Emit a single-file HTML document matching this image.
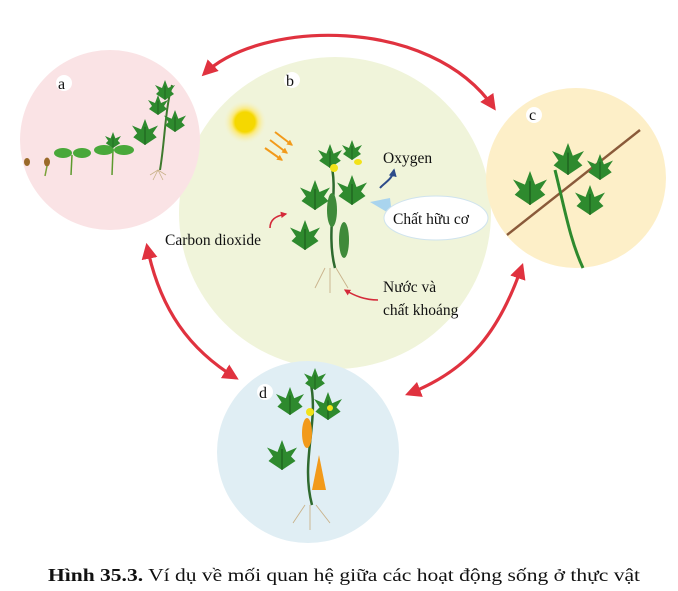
<!DOCTYPE html>
<html><head><meta charset="utf-8"><style>
body{margin:0;background:#fff;width:678px;height:591px;overflow:hidden}
svg{display:block}
text{font-family:"Liberation Serif",serif;fill:#111}
</style></head><body>
<svg width="678" height="591" viewBox="0 0 678 591" xmlns="http://www.w3.org/2000/svg">
<defs>
<radialGradient id="sun"><stop offset="0.45" stop-color="#f5d800"/><stop offset="0.6" stop-color="#fbe97a"/><stop offset="1" stop-color="#f2f4dc" stop-opacity="0"/></radialGradient>
<marker id="ah" viewBox="0 0 10 10" refX="8" refY="5" markerWidth="5" markerHeight="5" orient="auto-start-reverse"><path d="M0,0 L10,5 L0,10 z" fill="#e0323f"/></marker>
<marker id="sh" viewBox="0 0 10 10" refX="8" refY="5" markerWidth="4" markerHeight="4" orient="auto"><path d="M0,0 L10,5 L0,10 z" fill="#d42a3a"/></marker>
<marker id="bh" viewBox="0 0 10 10" refX="8" refY="5" markerWidth="4" markerHeight="4" orient="auto"><path d="M0,0 L10,5 L0,10 z" fill="#2d4b8a"/></marker>
<marker id="oh" viewBox="0 0 10 10" refX="8" refY="5" markerWidth="3" markerHeight="3" orient="auto"><path d="M0,0 L10,5 L0,10 z" fill="#f29a1a"/></marker>
<g id="leaf"><path d="M0,0 L-9,-6 L-6,-9 L-10,-15 L-3,-12 L0,-20 L3,-12 L10,-15 L6,-9 L9,-6 Z" fill="#2e8a2e"/><path d="M0,0 L0,-14" stroke="#1d5e1d" stroke-width="0.8"/></g>
</defs>

<circle cx="335" cy="213" r="156" fill="#f0f4da"/>
<circle cx="110" cy="140" r="90" fill="#fae3e5"/>
<circle cx="576" cy="178" r="90" fill="#fdefc8"/>
<circle cx="308" cy="452" r="91" fill="#e0eef4"/>

<g fill="none" stroke="#e0323f" stroke-width="3.2">
<path d="M204,74 C260,20 430,15 494,108" marker-start="url(#ah)" marker-end="url(#ah)"/>
<path d="M147,246 C160,310 190,350 236,378" marker-start="url(#ah)" marker-end="url(#ah)"/>
<path d="M522,266 C500,330 470,370 408,394" marker-start="url(#ah)" marker-end="url(#ah)"/>
</g>

<g font-size="16">
<circle cx="64" cy="83" r="8" fill="#fff"/><text x="58" y="89">a</text>
<circle cx="292" cy="80" r="8" fill="#fff"/><text x="286" y="86">b</text>
<circle cx="534" cy="115" r="8" fill="#fff"/><text x="529" y="120">c</text>
<circle cx="265" cy="392" r="8" fill="#fff"/><text x="259" y="398">d</text>
</g>

<ellipse cx="27" cy="162" rx="3" ry="4" fill="#9a6a2a"/>
<ellipse cx="47" cy="162" rx="3" ry="4.5" fill="#9a6a2a"/><path d="M47,166 L45,176" stroke="#7aa23a" stroke-width="1.5"/>
<path d="M72,155 L71,175" stroke="#5c9a2e" stroke-width="1.5"/><ellipse cx="63" cy="153" rx="9" ry="5" fill="#49a83a"/><ellipse cx="82" cy="153" rx="9" ry="5" fill="#49a83a"/>
<path d="M113,150 L112,175" stroke="#5c9a2e" stroke-width="1.5"/><ellipse cx="104" cy="150" rx="10" ry="5" fill="#49a83a"/><ellipse cx="124" cy="150" rx="10" ry="5" fill="#49a83a"/><use href="#leaf" x="113" y="148" transform="scale(0.8)" transform-origin="113 148"/>
<path d="M172,85 C165,110 165,140 160,170" stroke="#3e7a2e" stroke-width="2" fill="none"/>
<use href="#leaf" x="145" y="145" transform="scale(1.3)" transform-origin="145 145"/><use href="#leaf" x="158" y="115"/><use href="#leaf" x="175" y="132" transform="scale(1.1)" transform-origin="175 132"/><use href="#leaf" x="165" y="100"/>
<path d="M150,175 l8,-5 l8,5 M153,180 l5,-10 l5,10" stroke="#c9b28a" stroke-width="0.8" fill="none"/>

<circle cx="245" cy="122" r="22" fill="url(#sun)"/>
<g stroke="#f29a1a" stroke-width="2"><path d="M275,132 L292,145" marker-end="url(#oh)"/><path d="M270,140 L287,153" marker-end="url(#oh)"/><path d="M265,148 L282,160" marker-end="url(#oh)"/></g>
<path d="M330,160 C340,190 325,230 335,268" stroke="#2e6a2e" stroke-width="2.5" fill="none"/>
<use href="#leaf" x="315" y="210" transform="scale(1.5)" transform-origin="315 210"/>
<use href="#leaf" x="352" y="205" transform="scale(1.5)" transform-origin="352 205"/>
<use href="#leaf" x="305" y="250" transform="scale(1.5)" transform-origin="305 250"/>
<use href="#leaf" x="330" y="168" transform="scale(1.2)" transform-origin="330 168"/>
<use href="#leaf" x="352" y="160"/>
<ellipse cx="332" cy="210" rx="5" ry="17" fill="#3f8a3a"/>
<ellipse cx="344" cy="240" rx="5" ry="18" fill="#3f8a3a"/>
<circle cx="334" cy="168" r="4" fill="#f2e21a"/><ellipse cx="358" cy="162" rx="4" ry="3" fill="#f2e21a"/>
<path d="M325,268 l-10,20 M330,268 l0,25 M336,268 l12,20" stroke="#c9b28a" stroke-width="0.9" fill="none"/>
<path d="M380,188 C385,182 392,180 394,170" stroke="#2d4b8a" stroke-width="2" fill="none" marker-end="url(#bh)"/>
<path d="M270,228 C270,220 275,216 286,214" stroke="#d42a3a" stroke-width="1.6" fill="none" marker-end="url(#sh)"/>
<path d="M378,300 C365,300 355,296 345,290" stroke="#d42a3a" stroke-width="1.6" fill="none" marker-end="url(#sh)"/>
<path d="M370,202 L390,198 L392,215 Z" fill="#a9d4ee"/>
<ellipse cx="436" cy="218" rx="52" ry="22" fill="#fff" stroke="#cfe3ee" stroke-width="1"/>
<g font-size="15.5">
<text x="383" y="163">Oxygen</text>
<text x="393" y="224">Chất hữu cơ</text>
<text x="165" y="245">Carbon dioxide</text>
<text x="383" y="292">Nước và</text>
<text x="383" y="315">chất khoáng</text>
</g>

<path d="M507,235 L640,130" stroke="#8a5a3a" stroke-width="2.5"/>
<path d="M555,170 C565,210 570,240 583,268" stroke="#2e8a2e" stroke-width="3" fill="none"/>
<use href="#leaf" x="530" y="205" transform="scale(1.7)" transform-origin="530 205"/>
<use href="#leaf" x="568" y="175" transform="scale(1.6)" transform-origin="568 175"/>
<use href="#leaf" x="590" y="215" transform="scale(1.5)" transform-origin="590 215"/>
<use href="#leaf" x="600" y="180" transform="scale(1.3)" transform-origin="600 180"/>

<path d="M310,380 C320,420 300,460 312,505" stroke="#2e6a2e" stroke-width="2.5" fill="none"/>
<use href="#leaf" x="290" y="415" transform="scale(1.4)" transform-origin="290 415"/>
<use href="#leaf" x="328" y="420" transform="scale(1.4)" transform-origin="328 420"/>
<use href="#leaf" x="282" y="470" transform="scale(1.5)" transform-origin="282 470"/>
<use href="#leaf" x="315" y="390" transform="scale(1.1)" transform-origin="315 390"/>
<ellipse cx="307" cy="433" rx="5" ry="15" fill="#f29a1a"/>
<path d="M319,455 L312,490 L326,490 Z" fill="#f29a1a"/>
<circle cx="310" cy="412" r="4" fill="#f2e21a"/><circle cx="330" cy="408" r="3" fill="#f2e21a"/>
<path d="M305,505 l-12,18 M310,505 l0,25 M316,505 l14,18" stroke="#c9b28a" stroke-width="0.9" fill="none"/>

<text x="48" y="581" font-size="18" textLength="592" lengthAdjust="spacingAndGlyphs"><tspan font-weight="bold">Hình 35.3.</tspan> Ví dụ về mối quan hệ giữa các hoạt động sống ở thực vật</text>
</svg>
</body></html>
